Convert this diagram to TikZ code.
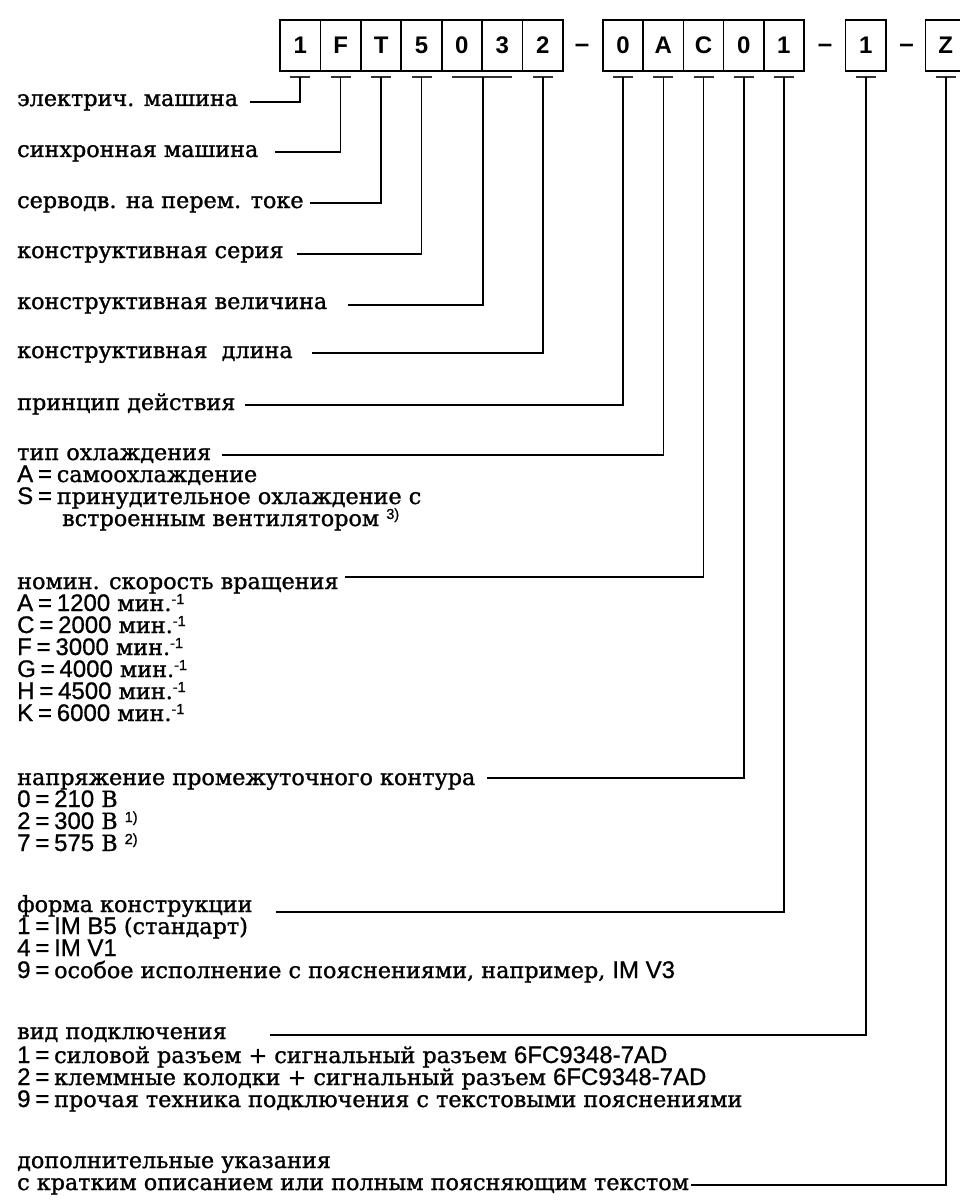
\documentclass[tikz,border=0pt]{standalone}
\usepackage{fontspec}
\setmainfont{DejaVu Serif}[FakeBold=1.2]
\newfontfamily\hsans{Liberation Sans}[FakeBold=0.8]
\newfontfamily\hsansbox{Liberation Sans Bold}
\newcommand\hs[1]{{\fontsize{24}{26}\selectfont\hsans #1}}
\newcommand\eq{\hspace{4.8pt}=\hspace{4.8pt}}
\newcommand\mysup[1]{\raisebox{7pt}{\fontsize{14.5}{14.5}\selectfont\hsans #1}}
\begin{document}
\begin{tikzpicture}[x=1pt,y=-1pt,
  lbl/.style={anchor=base west,inner sep=0pt,font=\fontsize{22.3}{26}\selectfont},
  digit/.style={draw,line width=1.6pt,minimum width=40.3pt,minimum height=51pt,inner sep=0pt,font=\fontsize{24}{24}\selectfont\hsansbox},
  conn/.style={line width=1.6pt},
  tick/.style={line width=2.4pt,black!80},
  sepdash/.style={anchor=base,font=\fontsize{26}{26}\selectfont\hsansbox,inner sep=0pt}]
\useasboundingbox (0,0) rectangle (960,1201);
% boxes
\node[digit] (b1) at (300.2,45.5) {1};
\node[digit] (b2) at (340.6,45.5) {F};
\node[digit] (b3) at (381.1,45.5) {T};
\node[digit] (b4) at (421.5,45.5) {5};
\node[digit] (b5) at (461.9,45.5) {0};
\node[digit] (b6) at (502.4,45.5) {3};
\node[digit] (b7) at (542.8,45.5) {2};
\node[sepdash] (d1) at (582,52.5) {–};
\node[digit] (b8) at (623.1,45.5) {0};
\node[digit] (b9) at (663.3,45.5) {A};
\node[digit] (b10) at (703.5,45.5) {C};
\node[digit] (b11) at (743.7,45.5) {0};
\node[digit] (b12) at (783.9,45.5) {1};
\node[sepdash] (d2) at (825,52.5) {–};
\node[digit] (b13) at (865.7,45.5) {1};
\node[sepdash] (d3) at (906.5,52.5) {–};
\node[digit] (b14) at (945.7,45.5) {Z};
% ticks
\foreach \b in {b1,b2,b3,b4,b7,b8,b9,b10,b11,b12,b13,b14}
  \draw[tick] ([xshift=-10pt,yshift=-5pt]\b.south) -- ([xshift=10pt,yshift=-5pt]\b.south);
\draw[tick] ([xshift=-10pt,yshift=-5pt]b5.south) -- ([xshift=10pt,yshift=-5pt]b6.south);
% labels
\node[lbl] (l1) at (17,106) {электрич. машина};
\node[lbl] (l2) at (17,157) {синхронная машина};
\node[lbl] (l3) at (17,208) {серводв. на перем. токе};
\node[lbl] (l4) at (17,258) {конструктивная серия};
\node[lbl] (l5) at (17,309) {конструктивная величина};
\node[lbl] (l6) at (17,358) {конструктивная\ \ длина};
\node[lbl] (l7) at (17,410) {принцип действия};
\node[lbl] (l8) at (17,460) {тип охлаждения};
\node[lbl] (l8a) at (17,482) {\hs{A\eq}самоохлаждение};
\node[lbl] (l8b) at (17,504) {\hs{S\eq}принудительное охлаждение с};
\node[lbl] (l8c) at (62,526) {встроенным вентилятором \mysup{3)}};
\node[lbl] (l9) at (17,589) {номин. скорость вращения};
\node[lbl] (l9a) at (17,611) {\hs{A\eq1200} мин.\mysup{-1}};
\node[lbl] (l9b) at (17,633) {\hs{C\eq2000} мин.\mysup{-1}};
\node[lbl] (l9c) at (17,655) {\hs{F\eq3000} мин.\mysup{-1}};
\node[lbl] (l9d) at (17,677) {\hs{G\eq4000} мин.\mysup{-1}};
\node[lbl] (l9e) at (17,699) {\hs{H\eq4500} мин.\mysup{-1}};
\node[lbl] (l9f) at (17,721) {\hs{K\eq6000} мин.\mysup{-1}};
\node[lbl] (l10) at (17,785) {напряжение промежуточного контура};
\node[lbl] (l10a) at (17,807) {\hs{0\eq210} В};
\node[lbl] (l10b) at (17,829) {\hs{2\eq300} В \mysup{1)}};
\node[lbl] (l10c) at (17,851) {\hs{7\eq575} В \mysup{2)}};
\node[lbl] (l11) at (17,912) {форма конструкции};
\node[lbl] (l11a) at (17,934) {\hs{1\eq IM B5} (стандарт)};
\node[lbl] (l11b) at (17,956) {\hs{4\eq IM V1}};
\node[lbl] (l11c) at (17,978) {\hs{9\eq}особое исполнение с пояснениями, например, \hs{IM V3}};
\node[lbl] (l12) at (17,1039) {вид подключения};
\node[lbl] (l12a) at (17,1063) {\hs{1\eq}силовой разъем + сигнальный разъем \hs{6FC9348-7AD}};
\node[lbl] (l12b) at (17,1085) {\hs{2\eq}клеммные колодки + сигнальный разъем \hs{6FC9348-7AD}};
\node[lbl] (l12c) at (17,1107) {\hs{9\eq}прочая техника подключения с текстовыми пояснениями};
\node[lbl] (l13) at (17,1168) {дополнительные указания};
\node[lbl] (l13a) at (17,1190) {с кратким описанием или полным поясняющим текстом};
% connector ends
\coordinate (e1) at (250,102);
\coordinate (e2) at (275,152);
\coordinate (e3) at (310,203);
\coordinate (e4) at (297,254);
\coordinate (e5) at (348,305);
\coordinate (e6) at (312,353);
\coordinate (e7) at (245,405);
\coordinate (e8) at (222,455);
\coordinate (e9) at (345,577);
\coordinate (e10) at (487,778);
\coordinate (e11) at (276,912);
\coordinate (e12) at (270,1035);
\coordinate (e13) at ([xshift=1.5pt,yshift=5pt]l13a.base east);
% connectors
\draw[conn] ([yshift=-5pt]b1.south) |- (e1);
\draw[conn] ([yshift=-5pt]b2.south) |- (e2);
\draw[conn] ([yshift=-5pt]b3.south) |- (e3);
\draw[conn] ([yshift=-5pt]b4.south) |- (e4);
\draw[conn] ([yshift=-5pt]b5.south east) |- (e5);
\draw[conn] ([yshift=-5pt]b7.south) |- (e6);
\draw[conn] ([yshift=-5pt]b8.south) |- (e7);
\draw[conn] ([yshift=-5pt]b9.south) |- (e8);
\draw[conn] ([yshift=-5pt]b10.south) |- (e9);
\draw[conn] ([yshift=-5pt]b11.south) |- (e10);
\draw[conn] ([yshift=-5pt]b12.south) |- (e11);
\draw[conn] ([yshift=-5pt]b13.south) |- (e12);
\draw[conn] ([yshift=-5pt]b14.south) |- (e13);
\end{tikzpicture}
\end{document}
